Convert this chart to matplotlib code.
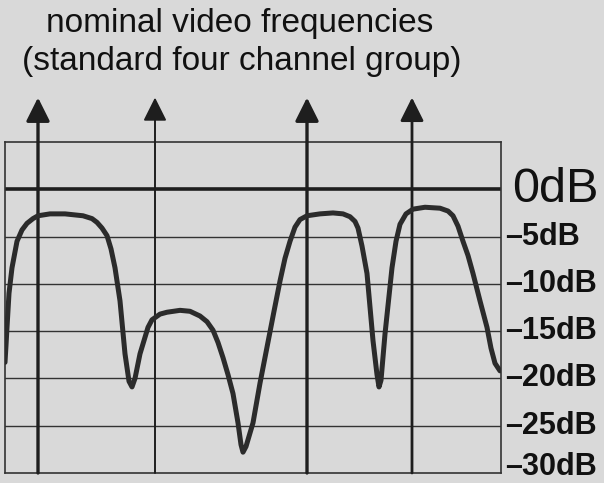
import matplotlib.pyplot as plt

plt.rcParams['font.family'] = ['Liberation Sans', 'DejaVu Sans']

# response curve (x in arbitrary frequency units, y in dB)
resp_x = [0, 1, 2, 4, 7, 12, 17, 22, 28, 33, 45, 60, 78, 87, 92, 97, 102, 106,
          110, 115, 120, 124, 127, 130, 135, 143, 147, 155, 162, 175, 185, 195,
          202, 208, 213, 218, 223, 228, 233, 236, 238, 241, 248, 255, 262, 269,
          275, 280, 285, 290, 295, 302, 315, 328, 338, 345, 350, 353, 357, 362,
          368, 372, 374, 376, 380, 387, 391, 395, 401, 408, 420, 435, 443, 448,
          453, 458, 463, 468, 475, 482, 486, 490, 495]
resp_db = [-18.3, -16.5, -14.6, -11.0, -8.3, -5.5, -4.3, -3.6, -3.1, -2.8, -2.6,
           -2.6, -2.8, -3.1, -3.5, -4.1, -4.9, -6.3, -8.3, -11.8, -17.4, -20.3,
           -20.9, -20.0, -17.4, -14.6, -13.8, -13.2, -13.0, -12.8, -12.9, -13.4,
           -14.0, -14.9, -16.2, -17.8, -19.6, -21.6, -24.7, -27.0, -27.8, -27.2,
           -24.7, -20.5, -16.7, -12.9, -9.7, -7.3, -5.5, -4.0, -3.2, -2.8, -2.6,
           -2.5, -2.6, -2.9, -3.4, -4.1, -6.0, -8.9, -16.0, -19.6, -20.9, -20.2,
           -15.3, -8.3, -5.5, -3.7, -2.6, -2.1, -1.9, -2.0, -2.3, -2.8, -3.9,
           -5.5, -7.0, -8.9, -11.8, -14.6, -16.8, -18.4, -19.2]

# nominal video frequencies (arrow positions)
freq_pos = [33, 150, 302, 407]
freq_lw = [2.4, 1.4, 2.4, 2.0]

levels = [0, -5, -10, -15, -20, -25, -30]
level_labels = ['0dB', '–5dB', '–10dB', '–15dB', '–20dB', '–25dB', '–30dB']

bg = '#d9d9d9'
ink = '#1e1e1e'

fig = plt.figure(figsize=(6.04, 4.83), dpi=100, facecolor=bg)
ax = fig.add_axes([5 / 604, 10 / 483, 496 / 604, 331 / 483])
ax.set_facecolor(bg)
ax.set_xlim(0, 496)
ax.set_ylim(-30, 5)
ax.set_xticks([])
ax.set_yticks([])
for s in ax.spines.values():
    s.set_linewidth(1.2)
    s.set_color('#333333')

# horizontal grid
for lv in levels[1:-1]:
    ax.axhline(lv, color='#333333', lw=1.0, zorder=1)
ax.axhline(0, color=ink, lw=2.6, zorder=2)

# nominal frequency arrows
for fx, lw in zip(freq_pos, freq_lw):
    ax.annotate('', xy=(fx, 9.7), xytext=(fx, -30),
                arrowprops=dict(arrowstyle='-|>,head_length=0.9,head_width=0.45',
                                lw=lw, color=ink, shrinkA=0, shrinkB=0,
                                mutation_scale=16),
                annotation_clip=False, zorder=3)

ax.plot(resp_x, resp_db, color='#2b2b2b', lw=3.6, solid_joinstyle='round',
        solid_capstyle='round', zorder=4)

# dB labels on the right
ax.text(507, 0, level_labels[0], fontsize=35, color='#111111', va='center',
        ha='left', clip_on=False)
for lv, lab in zip(levels[1:], level_labels[1:]):
    ax.text(500, lv + (0.65 if lv == -30 else 0), lab, fontsize=22,
            fontweight='bold', color='#111111', va='center', ha='left',
            clip_on=False)

fig.text(240 / 604, 1 - 32 / 483, 'nominal video frequencies', fontsize=24,
         ha='center', va='baseline', color='#111111')
fig.text(242 / 604, 1 - 70 / 483, '(standard four channel group)', fontsize=24,
         ha='center', va='baseline', color='#111111')

fig.savefig('out.png', dpi=100, facecolor=bg)
